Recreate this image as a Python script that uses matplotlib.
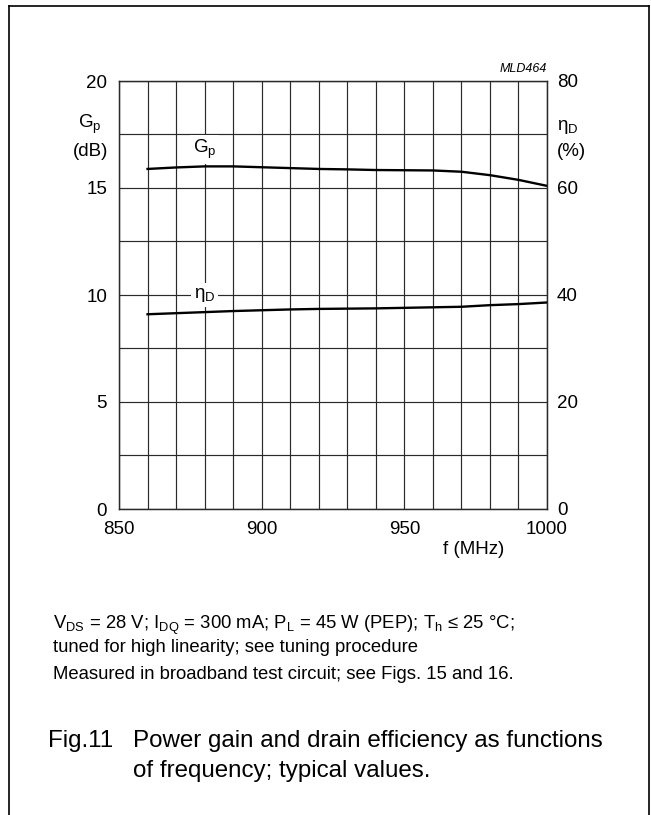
import matplotlib
matplotlib.use("Agg")
import matplotlib.pyplot as plt
from matplotlib.lines import Line2D

plt.rcParams['font.family'] = ['Liberation Sans', 'DejaVu Sans']
plt.rcParams['mathtext.fontset'] = 'custom'
plt.rcParams['mathtext.rm'] = 'Liberation Sans'
plt.rcParams['mathtext.it'] = 'Liberation Sans:italic'

# ---- data ----
freq = [860, 870, 880, 890, 900, 910, 920, 930, 940, 950, 960, 970, 980, 990, 1000]
gp_db = [15.89, 15.96, 16.01, 16.01, 15.97, 15.93, 15.89, 15.87, 15.84, 15.83, 15.82, 15.76, 15.60, 15.38, 15.10]
eta_d = [36.4, 36.6, 36.8, 37.0, 37.15, 37.3, 37.4, 37.45, 37.5, 37.6, 37.7, 37.8, 38.1, 38.3, 38.6]
x_ticks = [850, 900, 950, 1000]
y_left_ticks = [0, 5, 10, 15, 20]
y_right_ticks = [0, 20, 40, 60, 80]

W, H = 651, 815
fig = plt.figure(figsize=(W / 100, H / 100), dpi=100)

def fx(px):
    return px / W

def fy(py):
    return 1 - py / H

L, R, T, B = 119, 547, 81, 509
ax = fig.add_axes([fx(L), fy(B), fx(R) - fx(L), fy(T) - fy(B)])
ax2 = ax.twinx()

ax.set_xlim(850, 1000)
ax.set_ylim(0, 20)
ax2.set_ylim(0, 80)

ax.set_xticks(x_ticks)
ax.set_xticks(range(850, 1001, 10), minor=True)
ax.set_yticks(y_left_ticks)
ax.set_yticks([2.5 * i for i in range(9)], minor=True)
ax2.set_yticks(y_right_ticks)

FS = 13.5
ax.grid(True, which='both', color='#2a2a2a', lw=0.85)
ax.set_axisbelow(True)
ax.tick_params(axis='x', which='both', length=0, labelsize=FS, pad=9)
ax.tick_params(axis='y', which='both', length=0, labelsize=FS, pad=8.5)
ax2.tick_params(which='both', length=0, labelsize=FS, pad=7.2)
for a in (ax, ax2):
    for s in a.spines.values():
        s.set_color('#2a2a2a')
        s.set_linewidth(0.9)

ax.plot(freq, gp_db, color='black', lw=1.7, zorder=3)
ax2.plot(freq, eta_d, color='black', lw=1.7, zorder=3)

# in-plot labels with white background
ax.text(880, 16.64, r'G$_\mathregular{p}$', fontsize=FS, ha='center', va='baseline',
        bbox=dict(facecolor='white', edgecolor='none', pad=2.0), zorder=4)
ax2.text(880, 39.4, r'η$_\mathregular{D}$', fontsize=FS, ha='center', va='baseline',
         bbox=dict(facecolor='white', edgecolor='none', pad=2.0), zorder=4)

# axis titles
fig.text(fx(90), fy(128), r'G$_\mathregular{p}$', fontsize=FS, ha='center', va='baseline')
fig.text(fx(91), fy(156), '(dB)', fontsize=FS, ha='center', va='baseline')
fig.text(fx(557), fy(130), r'η$_\mathregular{D}$', fontsize=FS, ha='left', va='baseline')
fig.text(fx(557), fy(156), '(%)', fontsize=FS, ha='left', va='baseline')
fig.text(fx(443), fy(554), 'f (MHz)', fontsize=FS, ha='left', va='baseline')
fig.text(fx(547), fy(72), 'MLD464', fontsize=9, style='italic', ha='right', va='baseline')

# notes
NFS = 13.3
fig.text(fx(53), fy(629), r'V$_\mathregular{DS}$ = 28 V; I$_\mathregular{DQ}$ = 300 mA; P$_\mathregular{L}$ = 45 W (PEP); T$_\mathregular{h}$ ≤ 25 °C;',
         fontsize=NFS, ha='left', va='baseline')
fig.text(fx(53), fy(652), 'tuned for high linearity; see tuning procedure', fontsize=NFS, ha='left', va='baseline')
fig.text(fx(53), fy(679), 'Measured in broadband test circuit; see Figs. 15 and 16.', fontsize=NFS, ha='left', va='baseline')

CFS = 17.4
fig.text(fx(48), fy(747), 'Fig.11', fontsize=CFS, ha='left', va='baseline')
fig.text(fx(133), fy(747), 'Power gain and drain efficiency as functions', fontsize=CFS, ha='left', va='baseline')
fig.text(fx(133), fy(777), 'of frequency; typical values.', fontsize=CFS, ha='left', va='baseline')

# frame (open at the bottom)
fig.add_artist(Line2D([fx(9), fx(9)], [0, fy(6)], transform=fig.transFigure, color='black', lw=1.2))
fig.add_artist(Line2D([fx(9), fx(649)], [fy(6), fy(6)], transform=fig.transFigure, color='black', lw=1.2))
fig.add_artist(Line2D([fx(649), fx(649)], [fy(6), 0], transform=fig.transFigure, color='black', lw=1.2))

fig.savefig('out.png', dpi=100)
